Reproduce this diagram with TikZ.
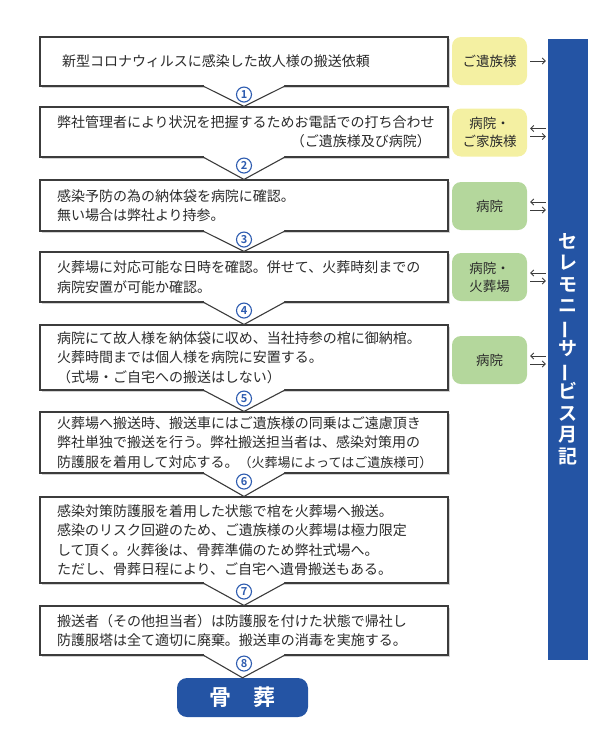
\documentclass[tikz,border=0pt]{standalone}
\usepackage{fontspec}
\usepackage{graphicx}
\setmainfont{Noto Sans CJK JP}[BoldFont={Noto Sans CJK JP Bold}]
\usetikzlibrary{shadows,arrows.meta,calc}

\definecolor{boxline}{HTML}{3C3C3C}
\definecolor{textgray}{HTML}{2B2B2B}
\definecolor{ceremony}{HTML}{2454A4}
\definecolor{numblue}{HTML}{2E5CB0}
\definecolor{famyellow}{HTML}{F4F0A2}
\definecolor{hospgreen}{HTML}{B4D79C}

\newcommand{\tatebo}{\rotatebox[origin=c]{90}{ー}}

\tikzset{
  stepbox/.style={draw=boxline, line width=1.1pt, fill=white, minimum width=408,
    text width=374, align=left, inner xsep=17, inner ysep=0, text=textgray,
    font=\fontsize{14}{19.5}\selectfont,
    drop shadow={shadow xshift=1.5pt, shadow yshift=-1.5pt, fill=black!35}},
  vline/.style={draw=boxline, line width=1.1pt, line join=miter},
  numcirc/.style={circle, draw=numblue, line width=1.1pt, minimum size=15, inner sep=0,
    text=numblue, font=\fontsize{11}{11}\bfseries\selectfont},
  party/.style={rounded corners=9, minimum width=75, minimum height=48, inner sep=0,
    align=center, text=textgray, font=\fontsize{13.5}{18}\selectfont},
  link/.style={draw=boxline, line width=0.8pt, shorten <=3pt, shorten >=2pt},
  >={Straight Barb[length=3pt,width=6pt]}
}

\begin{document}
\begin{tikzpicture}[x=1pt,y=-1pt]
\useasboundingbox (0,0) rectangle (600,737);

% steps
\node[stepbox, minimum height=49] (s1) at (244,61.5) {\hspace*{5pt}新型コロナウィルスに感染した故人様の搬送依頼};
\node[stepbox, minimum height=50] (s2) at (244,132) {\makebox[\linewidth][l]{弊社管理者により状況を把握するためお電話での打ち合わせ}\\\makebox[\linewidth][r]{（ご遺族様及び病院）}};
\node[stepbox, minimum height=51] (s3) at (244,205.5) {感染予防の為の納体袋を病院に確認。\\無い場合は弊社より持参。};
\node[stepbox, minimum height=50] (s4) at (244,277) {火葬場に対応可能な日時を確認。併せて、火葬時刻までの\\病院安置が可能か確認。};
\node[stepbox, minimum height=65] (s5) at (244,357.5) {病院にて故人様を納体袋に収め、当社持参の棺に御納棺。\\火葬時間までは個人様を病院に安置する。\\（式場・ご自宅への搬送はしない）};
\node[stepbox, minimum height=61] (s6) at (244,442.5) {火葬場へ搬送時、搬送車にはご遺族様の同乗はご遠慮頂き\\弊社単独で搬送を行う。弊社搬送担当者は、感染対策用の\\\makebox[\linewidth][l]{防護服を着用して対応する。{\fontsize{13}{19.5}\selectfont（火葬場によってはご遺族様可）}}};
\node[stepbox, minimum height=86] (s7) at (244,540) {感染対策防護服を着用した状態で棺を火葬場へ搬送。\\感染のリスク回避のため、ご遺族様の火葬場は極力限定\\して頂く。火葬後は、骨葬準備のため弊社式場へ。\\ただし、骨葬日程により、ご自宅へ遺骨搬送もある。};
\node[stepbox, minimum height=49] (s8) at (244,630.5) {搬送者（その他担当者）は防護服を付けた状態で帰社し\\防護服塔は全て適切に廃棄。搬送車の消毒を実施する。};

% end
\node[rounded corners=10, fill=ceremony, minimum width=131, minimum height=39, inner sep=0,
  text=white, font=\fontsize{22}{22}\bfseries\selectfont] (kotsu) at (242.5,697.5) {骨　葬};

% chevrons and numbers
\foreach \a/\b/\n in {s1/s2/1, s2/s3/2, s3/s4/3, s4/s5/4, s5/s6/5, s6/s7/6, s7/s8/7, s8/kotsu/8} {
  \fill[white] ($(\a.south)+(-40,-2)$) -- ($(\a.south)+(-40,0)$) -- (\b.north)
    -- ($(\a.south)+(40,0)$) -- ($(\a.south)+(40,-2)$) -- cycle;
  \draw[vline] ($(\a.south)+(-41,-0.55)$) -- (\b.north) -- ($(\a.south)+(41,-0.55)$);
  \node[numcirc] (n\n) at ($(\a.south)+(0,8)$) {\n};
}

% side bar
\node[fill=ceremony, minimum width=40, minimum height=621, inner sep=0, text=white,
  align=center, font=\fontsize{19}{21.5}\bfseries\selectfont] (bar) at (568,349)
  {セ\\レ\\モ\\ニ\\\tatebo\\サ\\\tatebo\\ビ\\ス\\月\\記};

% parties
\node[party, fill=famyellow] (p1) at (489.5,61) {ご遺族様};
\node[party, fill=famyellow] (p2) at (489.5,132.5) {病院・\\ご家族様};
\node[party, fill=hospgreen] (p3) at (489.5,206) {病院};
\node[party, fill=hospgreen] (p4) at (489.5,277) {病院・\\火葬場};
\node[party, fill=hospgreen] (p5) at (489.5,360) {病院};

\draw[link, ->] (p1.east) -- (p1.east -| bar.west);
\foreach \p in {p2,p3,p4,p5} {
  \coordinate (up) at ($(\p.east)+(0,-4)$);
  \coordinate (dn) at ($(\p.east)+(0,4)$);
  \draw[link, <-] (up) -- (up -| bar.west);
  \draw[link, ->] (dn) -- (dn -| bar.west);
}
\end{tikzpicture}
\end{document}
